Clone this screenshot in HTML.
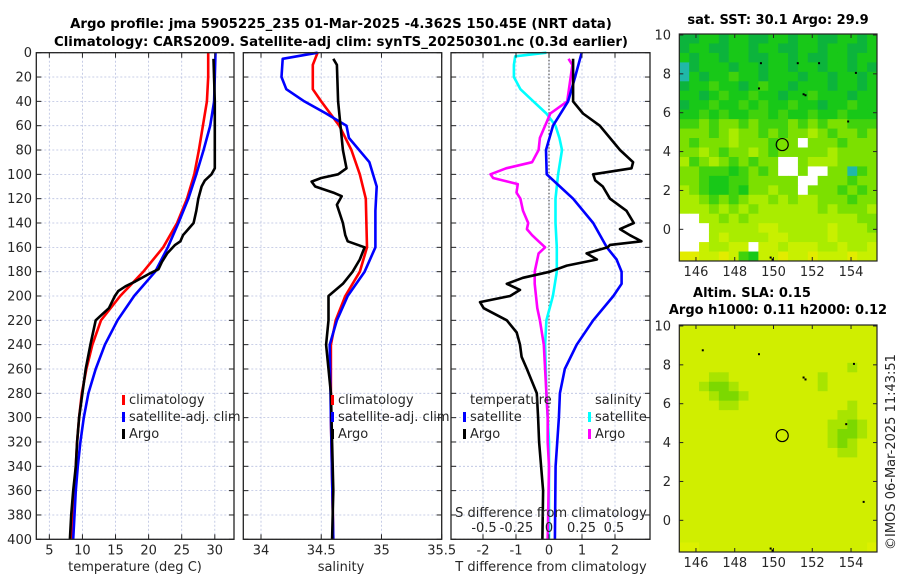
<!DOCTYPE html>
<html><head><meta charset="utf-8">
<style>
html,body{margin:0;padding:0;background:#fff;}
svg{display:block;font-family:"DejaVu Sans","Liberation Sans",sans-serif;}
.t{font-size:13px;fill:#262626;}
.b{font-size:13.3px;font-weight:bold;fill:#000;}
.m{font-size:13px;font-weight:bold;fill:#000;}
</style></head>
<body>
<svg id="fig" width="900" height="580" viewBox="0 0 900 580" xmlns="http://www.w3.org/2000/svg">
<text class="b" x="341" y="28" text-anchor="middle">Argo profile: jma 5905225_235 01-Mar-2025 -4.362S 150.45E (NRT data)</text>
<text class="b" x="341" y="46" text-anchor="middle">Climatology: CARS2009. Satellite-adj clim: synTS_20250301.nc (0.3d earlier)</text>
<text class="t" x="135" y="571" text-anchor="middle">temperature (deg C)</text>
<text class="t" x="341" y="571" text-anchor="middle">salinity</text>
<text class="t" x="551" y="571" text-anchor="middle">T difference from climatology</text>
<text class="m" x="778" y="24" text-anchor="middle">sat. SST: 30.1 Argo: 29.9</text>
<text class="m" x="752" y="297" text-anchor="middle">Altim. SLA: 0.15</text>
<text class="m" x="778" y="314" text-anchor="middle">Argo h1000: 0.11 h2000: 0.12</text>
<text class="t" transform="translate(895,452) rotate(-90)" text-anchor="middle">©IMOS 06-Mar-2025 11:43:51</text>
</svg>
<script>
// ---------- data ----------
const depthTicks=[0,20,40,60,80,100,120,140,160,180,200,220,240,260,280,300,320,340,360,380,400];
const tempTicks=[5,10,15,20,25,30];
const salTicks=[34,34.5,35,35.5];
const tdiffTicks=[-2,-1,0,1,2];
const sdiffTicks=[-0.5,-0.25,0,0.25,0.5];
const sdiffLabels=["-0.5","-0.25","0","0.25","0.5"];
const tClimDepth=[0,20,40,60,80,100,120,140,160,180,200,220,240,260,280,300,320,340,360,380,400];
const tClimVal=[29.0,29.0,28.8,28.2,27.6,26.9,25.8,24.3,22.2,19.2,15.7,12.8,11.5,10.6,9.9,9.5,9.2,9.0,8.8,8.6,8.4];
const tSatDepth=[0,20,40,60,80,100,120,140,160,180,200,220,240,260,280,300,320,340,360,380,400];
const tSatVal=[30.1,30.0,29.9,29.3,28.3,27.2,26.0,24.5,22.9,21.0,17.8,15.3,13.4,12.0,10.9,10.2,9.7,9.3,9.0,8.8,8.6];
const tArgoDepth=[5,40,95,100,105,110,120,130,140,145,150,155,158,165,172,178,182,188,192,196,200,210,215,220,240,260,280,300,320,340,360,380,400];
const tArgoVal=[29.8,30.0,30.0,29.5,28.5,28.0,27.5,27.2,26.8,26.0,25.2,24.8,24.0,22.8,22.0,21.5,20.0,18.0,16.5,15.4,14.9,14.0,13.0,12.0,11.2,10.5,10.0,9.5,9.2,9.0,8.6,8.3,8.1];
const sClimDepth=[0,10,30,40,60,80,100,120,160,180,200,220,240,300,400];
const sClimVal=[34.47,34.43,34.43,34.50,34.65,34.75,34.82,34.87,34.88,34.82,34.70,34.62,34.58,34.58,34.60];
const sSatDepth=[0,5,20,30,40,50,60,70,90,110,130,160,180,200,220,240,300,400];
const sSatVal=[34.47,34.18,34.17,34.21,34.36,34.54,34.71,34.73,34.90,34.96,34.95,34.95,34.86,34.72,34.63,34.57,34.58,34.60];
const sArgoDepth=[5,10,40,60,80,95,100,103,106,110,115,118,125,140,150,155,160,170,180,190,200,220,240,260,280,320,360,400];
const sArgoVal=[34.60,34.63,34.64,34.66,34.68,34.71,34.64,34.50,34.42,34.45,34.60,34.67,34.63,34.68,34.70,34.72,34.86,34.82,34.76,34.68,34.56,34.56,34.54,34.56,34.58,34.59,34.60,34.59];
const dTSatDepth=[0,20,40,60,80,100,110,120,140,160,170,180,190,200,220,240,260,280,300,340,400];
const dTSatVal=[0.99,0.79,0.58,0.12,-0.09,-0.07,0.33,0.73,1.34,1.75,2.05,2.2,2.2,1.95,1.34,0.84,0.48,0.33,0.3,0.2,0.18];
const dTArgoDepth=[5,20,40,50,60,80,90,95,100,105,110,120,130,140,145,150,155,158,160,165,170,175,180,185,190,195,200,205,210,220,230,240,250,260,280,300,320,360,400];
const dTArgoVal=[0.73,0.73,0.73,1.03,1.54,2.15,2.55,2.5,1.34,1.4,1.63,1.85,2.35,2.57,2.15,2.45,2.8,1.85,1.78,1.14,1.45,0.54,0.03,-0.79,-1.28,-0.88,-1.18,-2.09,-1.98,-1.28,-0.98,-0.88,-0.83,-0.67,-0.37,-0.33,-0.3,-0.18,-0.2];
const dSSatDepth=[0,3,10,20,30,40,50,60,70,80,100,120,140,160,180,200,220,240,280,300,320,400];
const dSSatVal=[-0.02,-0.26,-0.27,-0.27,-0.22,-0.12,-0.02,0.05,0.08,0.1,0.07,0.05,0.05,0.06,0.06,0.03,-0.02,-0.03,-0.02,-0.01,0,0];
const dSArgoDepth=[5,10,40,50,60,70,80,90,95,100,103,108,115,120,130,140,145,150,155,160,165,170,180,190,200,210,220,240,260,280,300,320,340,400];
const dSArgoVal=[0.15,0.18,0.14,0.01,-0.03,-0.07,-0.08,-0.13,-0.33,-0.45,-0.43,-0.24,-0.25,-0.22,-0.2,-0.16,-0.17,-0.13,-0.08,-0.03,-0.08,-0.09,-0.11,-0.11,-0.1,-0.09,-0.07,-0.04,-0.03,-0.02,-0.01,-0.01,0,-0.01];
const lonTicks=[146,148,150,152,154];
const latTicks=[0,2,4,6,8,10];
const argoLon=150.45, argoLat=4.36;
const sstRows=[
"aabbabbaabbabbaabbab","abbaabbabbaabbabbaab","babbabbaabbabaabbabb","tabbbabbabbabbabbaba",
"tbabbcbbabbbabbabbab","abbcbbabcbbabbbabbab","bbabcbbcbbabbcbbbabb","abbcbbcbcbbcbbabbcbb",
"bbcbcbbccbcbbcbbcbbb","ccdcddcdcccdcdcddccc","dddcdeddcdcddedcddcd","dcdddedddcddwdddcddd",
"ddedcddedcdddddedddd","ecdedcdcddwwdeeedddd","ddcccbcdcdwwdwwddtcd","ddcbbccdddddwwdddcdd",
"edcbbcbddeddwdddcdcd","eedcdcdeededeedddcdd","eeedededeeeeeededdde","wweededeeeeeeeeeeedd",
"wwweeeeeffeeeeefeeed","wwwefeeeeffeeeefeeee","wwfeeffwffefffeefeef","ggffgfcbffgffgfffgff"];
const slaRows=[
"ffffffffffffffffffff","ffffffffffffffffffff","ffffffffffffffffffff","ffffffffffffffffffff",
"fffffffffffffffffeff","fffeefffffffffefffff","ffeddeffffffffefffff","fffeddefffffffffffff",
"ffffeefffffffffffeff","ffffffffffffffffeeff","fffffffffffffffeedef","fffffffffffffffeddef",
"fffffffffffffffedeff","ffffffffffffffffeeff","ffffffffffffffffffff","ffffffffffffffffffff",
"ffffffffffffffffffff","ffffffffffffffffffff","ffffffffffffffffffff","ffffffffffffffffffff",
"ffffffffffffffffffff","ffffffffffffffffffff","ffffffffffffffffffff","ggfffffffffffffffffg"];
// ---------- drawing ----------
const NS="http://www.w3.org/2000/svg";
const svg=document.getElementById('fig');
function mk(tag,attrs,parent){const e=document.createElementNS(NS,tag);for(const k in attrs)e.setAttribute(k,attrs[k]);(parent||svg).appendChild(e);return e;}
const Y0=52.7,Y1=539.3;
function yD(d){return Y0+(d/400)*(Y1-Y0);}
function lin(d0,d1,r0,r1){return v=>r0+(v-d0)/(d1-d0)*(r1-r0);}
const xT=lin(3.03,32.9,36.3,234);
const xS=lin(33.853,35.5,243.3,441.7);
const xDT=lin(0,1,549,582);
const xDS=lin(0,1,549,679);
const panels=[{l:36.3,r:234,name:'temperature-panel'},{l:243.3,r:441.7,name:'salinity-panel'},{l:451,r:650,name:'difference-panel'}];

function grid(p,xs,xf,i){
  const g=mk('g',{});
  
  
  depthTicks.forEach(d=>{mk('line',{x1:p.l,x2:p.r,y1:yD(d),y2:yD(d),stroke:'#b8c0e0','stroke-width':0.8,'stroke-dasharray':'2,2'},g);});
  xs.forEach(v=>{const x=xf(v);mk('line',{x1:x,x2:x,y1:Y0,y2:Y1,stroke:'#b8c0e0','stroke-width':0.8,'stroke-dasharray':'2,2'},g);});
}
function frame(p,xs,xf,labels,labelArr){
  const g=mk('g',{});
  
  
  mk('rect',{x:p.l,y:Y0,width:p.r-p.l,height:Y1-Y0,fill:'none',stroke:'#222','stroke-width':1.3},g);
  depthTicks.forEach(d=>{const y=yD(d);
    mk('line',{x1:p.l,x2:p.l+5,y1:y,y2:y,stroke:'#222'},g);
    mk('line',{x1:p.r-5,x2:p.r,y1:y,y2:y,stroke:'#222'},g);
  });
  xs.forEach((v,i)=>{const x=xf(v);
    mk('line',{x1:x,x2:x,y1:Y1-5,y2:Y1,stroke:'#222'},g);
    mk('line',{x1:x,x2:x,y1:Y0,y2:Y0+5,stroke:'#222'},g);
    if(labels){const t=mk('text',{x:x,y:Y1+15,'text-anchor':'middle',class:'t'},g);t.textContent=labelArr?labelArr[i]:String(v);
      
      }
  });
}
function line(dep,val,xf,color,name,w){
  const d=dep.map((z,i)=>(i?'L':'M')+xf(val[i]).toFixed(1)+','+yD(z).toFixed(1)).join('');
  const p=mk('path',{d:d,fill:'none',stroke:color,'stroke-width':w||2.6,'stroke-linejoin':'round'});
  
  
}
// panel 1
grid(panels[0],tempTicks,xT);
line(tClimDepth,tClimVal,xT,'#ff0000','temp-climatology-line');
line(tSatDepth,tSatVal,xT,'#0000ff','temp-satellite-line');
line(tArgoDepth,tArgoVal,xT,'#000000','temp-argo-line');
frame(panels[0],tempTicks,xT,true);
depthTicks.forEach(d=>{const t=mk('text',{x:32,y:yD(d)+4.5,'text-anchor':'end',class:'t'});t.textContent=String(d);
  
  });
// panel 2
grid(panels[1],salTicks,xS);
line(sClimDepth,sClimVal,xS,'#ff0000','sal-climatology-line');
line(sSatDepth,sSatVal,xS,'#0000ff','sal-satellite-line');
line(sArgoDepth,sArgoVal,xS,'#000000','sal-argo-line');
frame(panels[1],salTicks,xS,true);
// panel 3
grid(panels[2],tdiffTicks,xDT);
mk('line',{x1:549,x2:549,y1:Y0,y2:Y1,stroke:'#333','stroke-width':1,'stroke-dasharray':'1.5,2'});
line(dSSatDepth,dSSatVal,xDS,'#00ffff','sal-diff-satellite-line');
line(dSArgoDepth,dSArgoVal,xDS,'#ff00ff','sal-diff-argo-line');
line(dTSatDepth,dTSatVal,xDT,'#0000ff','temp-diff-satellite-line');
line(dTArgoDepth,dTArgoVal,xDT,'#000000','temp-diff-argo-line');
frame(panels[2],tdiffTicks,xDT,true);
// inner S axis labels
{const t=mk('text',{x:551,y:517,'text-anchor':'middle',class:'t'});t.textContent='S difference from climatology';
 
 }
sdiffTicks.forEach((v,i)=>{const t=mk('text',{x:xDS(v),y:532,'text-anchor':'middle',class:'t'});t.textContent=sdiffLabels[i];
  
  });
// legends
function leg(x,y,color,label,name){
  const g=mk('g',{});
  
  
  if(color) mk('rect',{x:x-7,y:y-9,width:3,height:10,fill:color},g);
  const t=mk('text',{x:x,y:y,class:'t'},g);t.textContent=label;
}
leg(129,404,'#ff0000','climatology','legend-temp-climatology');
leg(129,421,'#0000ff','satellite-adj. clim','legend-temp-satellite');
leg(129,438,'#000000','Argo','legend-temp-argo');
leg(338,404,'#ff0000','climatology','legend-sal-climatology');
leg(338,421,'#0000ff','satellite-adj. clim','legend-sal-satellite');
leg(338,438,'#000000','Argo','legend-sal-argo');
leg(470,404,null,'temperature','legend-temperature-header');
leg(470,421,'#0000ff','satellite','legend-tdiff-satellite');
leg(470,438,'#000000','Argo','legend-tdiff-argo');
leg(595,404,null,'salinity','legend-salinity-header');
leg(595,421,'#00ffff','satellite','legend-sdiff-satellite');
leg(595,438,'#ff00ff','Argo','legend-sdiff-argo');
// maps
const palette={a:'#0cb43c',b:'#18c818',c:'#40d20c',d:'#7ce000',e:'#aaec00',f:'#c8f000',g:'#e2ec00',t:'#20b8a8',w:'#ffffff'};
const slaPalette={d:'#7cd800',e:'#a8e400',f:'#d0ee00',g:'#dcf000'};
function map(top,rows,pal,name,dots){
  const L=679.3,R=877,T=top,B=top+227;
  const xL=lin(145.14,155.34,L,R), yL=lin(10.05,-1.63,T,B);
  const g=mk('g',{});
  
  
  const nr=rows.length,nc=rows[0].length,cw=(R-L)/nc,ch=(B-T)/nr;
  rows.forEach((row,r)=>{for(let c=0;c<nc;c++){mk('rect',{x:(L+c*cw).toFixed(2),y:(T+r*ch).toFixed(2),width:(cw+0.4).toFixed(2),height:(ch+0.4).toFixed(2),fill:pal[row[c]]},g);}});
  dots.forEach(p=>mk('rect',{x:xL(p[0]),y:yL(p[1]),width:2,height:2,fill:'#000'},g));
  const c=mk('circle',{cx:xL(argoLon),cy:yL(argoLat),r:6,fill:'none',stroke:'#000','stroke-width':1.2},g);
  
  
  mk('rect',{x:L,y:T,width:R-L,height:B-T,fill:'none',stroke:'#222','stroke-width':1.2},g);
  lonTicks.forEach(v=>{const x=xL(v);mk('line',{x1:x,x2:x,y1:B-4,y2:B,stroke:'#222'},g);mk('line',{x1:x,x2:x,y1:T,y2:T+4,stroke:'#222'},g);
    const t=mk('text',{x:x,y:B+15,'text-anchor':'middle',class:'t'},g);t.textContent=String(v);
    
    });
  latTicks.forEach(v=>{const y=yL(v);mk('line',{x1:L,x2:L+4,y1:y,y2:y,stroke:'#222'},g);mk('line',{x1:R-4,x2:R,y1:y,y2:y,stroke:'#222'},g);
    const t=mk('text',{x:671,y:y+4.5,'text-anchor':'end',class:'t'},g);t.textContent=String(v);
    
    });
}
map(34,sstRows,palette,'sst-map',[[149.2,7.3],[151.5,7.0],[151.6,6.95],[152.3,8.6],[154.2,8.1],[153.8,5.6],[149.8,-1.4],[149.9,-1.5],[151.2,8.6],[149.3,8.6]]);
map(325,slaRows,slaPalette,'sla-map',[[149.2,8.6],[151.5,7.4],[151.6,7.3],[154.1,8.1],[153.7,5.0],[154.6,1.0],[149.8,-1.4],[149.9,-1.5],[146.3,8.8]]);
</script>
</body></html>
